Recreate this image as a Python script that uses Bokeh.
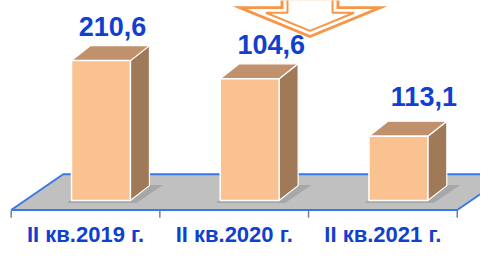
import numpy as np
from bokeh.plotting import figure
from bokeh.models import Range1d, ColumnDataSource
from bokeh.embed import file_html
from bokeh.resources import INLINE
from bokeh.core.properties import value

# ---------------- data ----------------
categories = ["II кв.2019 г.", "II кв.2020 г.", "II кв.2021 г."]
label_values = [210.6, 104.6, 113.1]          # printed values
bar_heights = [100, 87, 46]                   # relative bar heights (first = 100)

# ---------------- layout / style ----------------
PX_X = 148.7      # screen px per category
PX_Y = 1.49       # screen px per height unit
FACE_OFF = 0.104  # front face centre offset from category centre (cat units)
HALF_W = 0.198    # half width of front face
DEPTH_X = 0.128   # bar depth, x (cat units)
DEPTH_Y = 10.7    # bar depth, y (height units)
FLOOR_FRONT = -6.7
FLOOR_BACK = 18.8
FLOOR_DX = 0.35
TICK_LEN = 5.5

FRONT = "#FAC191"
TOP = "#C0916C"
SIDE = "#A07A58"
BLUE = "#1040D0"
FLOOR = "#C0C0C0"
FLOOR_LINE = "#3A78E6"
ORANGE = "#F79646"

label_dx = [2, 12, 16]      # px shift right of bar centre
label_gap = [20, 21, 26]    # px gap above bar top

# reference-pixel -> data helpers (for decorations)
def dx_(x):
    return (x - 85.0) / PX_X
def dy_(y):
    return (213.0 - y) / PX_Y

p = figure(width=480, height=248, output_backend="svg", toolbar_location=None,
           x_axis_location=None, y_axis_location=None, min_border=0,
           x_range=Range1d(dx_(0), dx_(480)), y_range=Range1d(dy_(264), dy_(0)))
p.outline_line_color = None
p.xgrid.visible = False
p.ygrid.visible = False
p.background_fill_color = "white"
p.border_fill_color = "white"

n = len(categories)
idx = np.arange(n)

# ---------------- floor ----------------
p.patch([-0.5, n - 0.5, n - 0.5 + FLOOR_DX, -0.5 + FLOOR_DX],
        [FLOOR_FRONT, FLOOR_FRONT, FLOOR_BACK, FLOOR_BACK],
        fill_color=FLOOR, line_color=FLOOR_LINE, line_width=2)
bounds = np.arange(n + 1) - 0.5
p.segment(x0=bounds, y0=[FLOOR_FRONT - 0.7] * (n + 1), x1=bounds,
          y1=[FLOOR_FRONT - TICK_LEN] * (n + 1), line_color="#808080", line_width=1.5)

# ---------------- bars ----------------
xl = idx + FACE_OFF - HALF_W
xr = idx + FACE_OFF + HALF_W
h = np.array(bar_heights, float)

# soft shadows
shadow_xs = [[a - 0.03, b + 0.04, b + DEPTH_X + 0.09, a + DEPTH_X] for a, b in zip(xl, xr)]
shadow_ys = [[-1.8, -1.8, DEPTH_Y + 0.5, DEPTH_Y + 0.5] for _ in h]
p.patches(shadow_xs, shadow_ys, fill_color="#8a8a8a", fill_alpha=0.45, line_color=None)

front_xs = [[a, b, b, a] for a, b in zip(xl, xr)]
front_ys = [[0, 0, v, v] for v in h]
side_xs = [[b, b + DEPTH_X, b + DEPTH_X, b] for b in xr]
side_ys = [[0, DEPTH_Y, v + DEPTH_Y, v] for v in h]
top_xs = [[a, b, b + DEPTH_X, a + DEPTH_X] for a, b in zip(xl, xr)]
top_ys = [[v, v, v + DEPTH_Y, v + DEPTH_Y] for v in h]
p.patches(side_xs, side_ys, fill_color=SIDE, line_color="white", line_width=1.2)
p.patches(top_xs, top_ys, fill_color=TOP, line_color="white", line_width=1.2)
p.patches(front_xs, front_ys, fill_color=FRONT, line_color="white", line_width=1.5)

# ---------------- arrow (decoration) ----------------
def inset(poly, d):
    pts = np.array(poly, float)
    m = len(pts)
    area = 0.5 * np.sum(pts[:, 0] * np.roll(pts[:, 1], -1) - np.roll(pts[:, 0], -1) * pts[:, 1])
    sgn = 1.0 if area > 0 else -1.0
    lines = []
    for i in range(m):
        a, b = pts[i], pts[(i + 1) % m]
        t = (b - a) / np.linalg.norm(b - a)
        nrm = np.array([-t[1], t[0]]) * sgn
        lines.append((a + nrm * d, t))
    out = []
    for i in range(m):
        (p1, t1), (p2, t2) = lines[i - 1], lines[i]
        A = np.array([t1, -t2]).T
        s, _ = np.linalg.solve(A, p2 - p1)
        out.append(p1 + s * t1)
    return np.array(out)

acx = 309.5
arrow = [(acx - 29.5, -30), (acx - 29.5, 6), (acx - 77.5, 6), (acx, 40),
         (acx + 77.5, 6), (acx + 29.5, 6), (acx + 29.5, -30)]
outer = np.array(arrow, float)
mid = inset(arrow, 3.0)
inner = inset(arrow, 7.0)
for poly, fc, lc in [(outer, ORANGE, None), (mid, "white", None), (inner, "white", ORANGE)]:
    p.patch([dx_(x) for x in poly[:, 0]], [dy_(y) for y in poly[:, 1]],
            fill_color=fc, line_color=lc, line_width=2)

# ---------------- labels ----------------
lab_src = ColumnDataSource(dict(
    x=idx + FACE_OFF + DEPTH_X / 2 + np.array(label_dx) / PX_X,
    y=h + DEPTH_Y + np.array(label_gap) / PX_Y,
    text=[f"{v:.1f}".replace(".", ",") for v in label_values]))
p.text(x="x", y="y", text="text", source=lab_src,
       text_align="center", text_baseline="alphabetic",
       text_font=value("Liberation Sans"), text_font_style="bold",
       text_font_size="27px", text_color=BLUE)

cat_src = ColumnDataSource(dict(x=idx, y=[dy_(262.5)] * n, text=categories))
p.text(x="x", y="y", text="text", source=cat_src,
       text_align="center", text_baseline="bottom",
       text_font=value("Liberation Sans"), text_font_style="bold",
       text_font_size="22px", text_color=BLUE)

open("out.html", "w").write(file_html(p, INLINE))
